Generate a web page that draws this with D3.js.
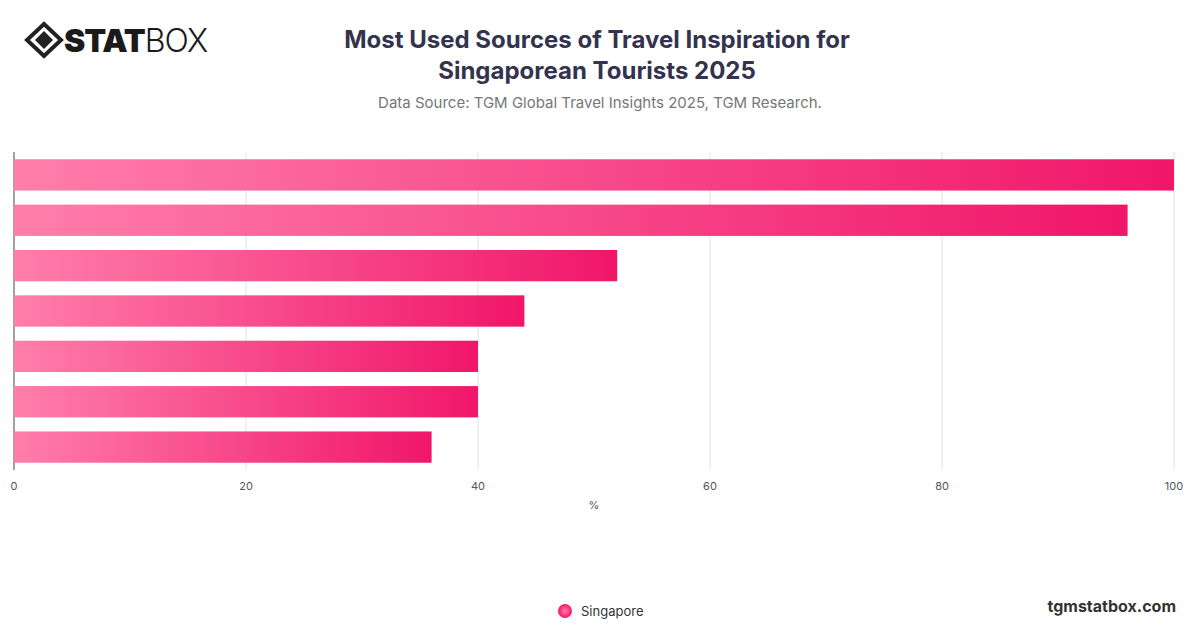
<!DOCTYPE html>
<html><head><meta charset="utf-8">
<script src="https://cdn.jsdelivr.net/npm/d3@7"></script>
<style>body{margin:0;background:#fff;font-family:Inter,"Noto Sans",sans-serif}</style>
</head><body><div id="chart"></div>
<script>
// categories are not labelled in the picture
const categories = ["Source 1","Source 2","Source 3","Source 4","Source 5","Source 6","Source 7"];
const values = [100, 96, 52, 44, 40, 40, 36];
const ticks = [0, 20, 40, 60, 80, 100];
const seriesName = "Singapore";

const svg = d3.select('#chart').append('svg').attr('width',1200).attr('height',628);
const defs = svg.append('defs');
const g = defs.append('linearGradient').attr('id','barGrad').attr('x1','0').attr('x2','1').attr('y1','0').attr('y2','0');
g.append('stop').attr('offset','0').attr('stop-color','#ff7eaa');
g.append('stop').attr('offset','1').attr('stop-color','#f0166a');
const lg = defs.append('radialGradient').attr('id','dotGrad');
lg.append('stop').attr('offset','0').attr('stop-color','#ff7eaa');
lg.append('stop').attr('offset','1').attr('stop-color','#f0166a');

const x = d3.scaleLinear().domain([0,100]).range([14,1174]);
const y = d3.scaleBand().domain(categories).range([152,470]).paddingInner(0.31).paddingOuter(0.16);

// gridlines
svg.selectAll('.grid').data(ticks.slice(1)).enter().append('line')
  .attr('x1',d=>x(d)).attr('x2',d=>x(d)).attr('y1',152).attr('y2',470)
  .attr('stroke','#e3e3e3');
svg.append('line').attr('x1',x(0)).attr('x2',x(0)).attr('y1',152).attr('y2',470).attr('stroke','#444');

svg.selectAll('.bar').data(values).enter().append('rect')
  .attr('x',x(0)).attr('y',(d,i)=>y(categories[i]))
  .attr('width',d=>x(d)-x(0)).attr('height',y.bandwidth())
  .attr('fill','url(#barGrad)');

svg.selectAll('.tick').data(ticks).enter().append('text')
  .attr('x',d=>x(d)).attr('y',490).attr('text-anchor','middle')
  .attr('font-size',11).attr('fill','#555').text(d=>d);
svg.append('text').attr('x',594).attr('y',509).attr('text-anchor','middle').attr('font-size',11).attr('fill','#555').text('%');

// title
svg.append('text').attr('x',597).attr('y',48).attr('text-anchor','middle').attr('font-size',24).attr('font-weight',700).attr('fill','#33334d').text('Most Used Sources of Travel Inspiration for');
svg.append('text').attr('x',597).attr('y',79).attr('text-anchor','middle').attr('font-size',24).attr('font-weight',700).attr('fill','#33334d').text('Singaporean Tourists 2025');
svg.append('text').attr('x',600).attr('y',108).attr('text-anchor','middle').attr('font-size',15).attr('fill','#777').text('Data Source: TGM Global Travel Insights 2025, TGM Research.');

// logo
const logo = svg.append('g').attr('transform','translate(44,40)');
logo.append('path').attr('d','M0,-16 L17,0 L0,16 L-17,0 Z').attr('fill','none').attr('stroke','#222').attr('stroke-width',4);
logo.append('path').attr('d','M0,-9 L9,0 L0,9 L-9,0 Z').attr('fill','#222');
svg.append('text').attr('x',64).attr('y',52).attr('font-size',32).attr('font-weight',900).attr('fill','#1a1a1a').attr('letter-spacing',-1).text('STAT')
  .append('tspan').attr('font-weight',300).text('BOX');

// legend
svg.append('circle').attr('cx',565).attr('cy',611).attr('r',7).attr('fill','url(#dotGrad)');
svg.append('text').attr('x',581).attr('y',616).attr('font-size',13).attr('fill','#333').text(seriesName);
svg.append('text').attr('x',1176).attr('y',612).attr('text-anchor','end').attr('font-size',16).attr('font-weight',700).attr('fill','#333').text('tgmstatbox.com');
</script></body></html>
